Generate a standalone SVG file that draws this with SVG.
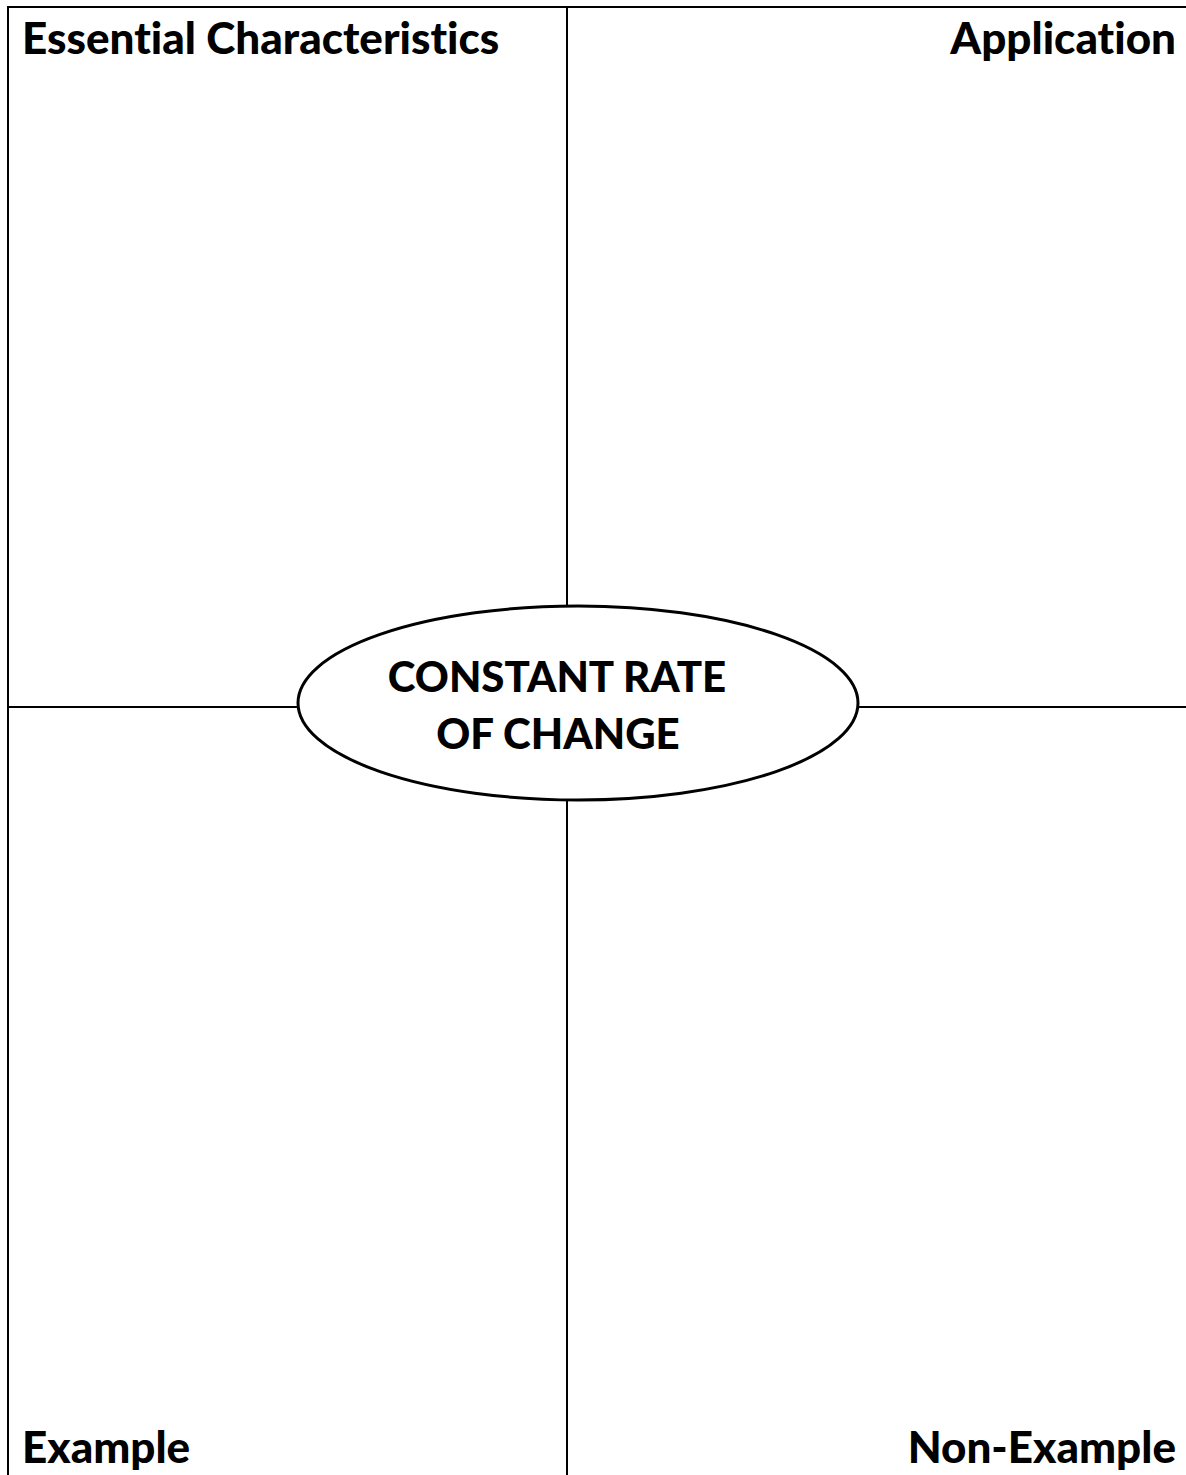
<svg xmlns="http://www.w3.org/2000/svg" width="1186" height="1475" viewBox="0 0 1186 1475">
<style>
.ln{stroke:#000;stroke-width:2;fill:none}
.lbl{font-family:Lato,"Liberation Sans",sans-serif;font-weight:900;font-size:44px;fill:#000;font-variant-ligatures:none;font-feature-settings:"liga" 0}
.ctr{font-family:Lato,"Liberation Sans",sans-serif;font-weight:900;font-size:42px;fill:#000;text-anchor:middle;font-variant-ligatures:none}
</style>
<rect width="1186" height="1475" fill="#fff"/>
<g id="connectors">
<line class="ln" x1="7" y1="7" x2="1186" y2="7"/>
<line class="ln" x1="8" y1="6" x2="8" y2="1475"/>
<line class="ln" x1="567" y1="7" x2="567" y2="606"/>
<line class="ln" x1="567" y1="800" x2="567" y2="1475"/>
<line class="ln" x1="8" y1="707" x2="298" y2="707"/>
<line class="ln" x1="858" y1="707" x2="1186" y2="707"/>
</g>
<g id="essential"><text class="lbl" x="22" y="54">Essential Characteristics</text></g>
<g id="application"><text class="lbl" x="1176" y="54" text-anchor="end">Application</text></g>
<g id="example"><text class="lbl" x="22" y="1463">Example</text></g>
<g id="nonexample"><text class="lbl" x="1176" y="1463" text-anchor="end">Non-Example</text></g>
<g id="center">
<ellipse cx="578" cy="703" rx="280" ry="97" fill="#fff" stroke="#000" stroke-width="3"/>
<text class="ctr" x="557" y="692">CONSTANT RATE</text>
<text class="ctr" x="558" y="749">OF CHANGE</text>
</g>
</svg>
